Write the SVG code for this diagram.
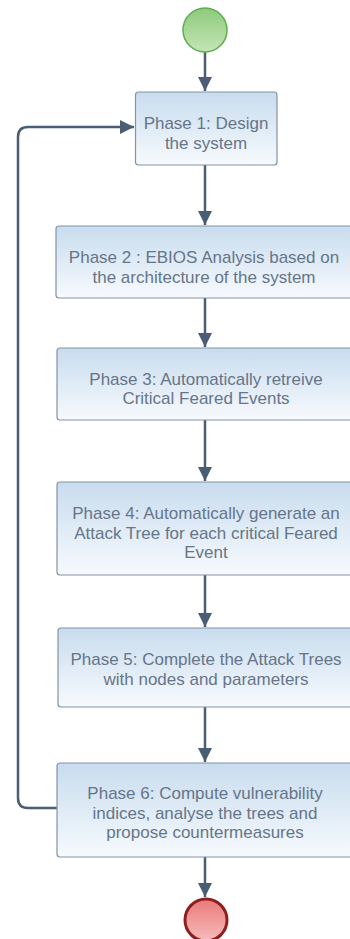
<svg xmlns="http://www.w3.org/2000/svg" width="350" height="939" viewBox="0 0 350 939">
<defs>
<linearGradient id="boxg" x1="0" y1="0" x2="0" y2="1">
<stop offset="0" stop-color="#c8dcee"/>
<stop offset="1" stop-color="#f7fafd"/>
</linearGradient>
<linearGradient id="startg" x1="0" y1="0" x2="0" y2="1">
<stop offset="0" stop-color="#8dca7b"/>
<stop offset="1" stop-color="#c5e5b8"/>
</linearGradient>
<linearGradient id="endg" x1="0" y1="0" x2="0" y2="1">
<stop offset="0" stop-color="#e97a7a"/>
<stop offset="1" stop-color="#f7bcbc"/>
</linearGradient>
<marker id="arr" viewBox="0 0 14 18" refX="14" refY="9" markerWidth="14" markerHeight="18" markerUnits="userSpaceOnUse" orient="auto">
<path d="M0,2 L14,9 L0,16 Z" fill="#4a5d74"/>
</marker>
</defs>
<style>
.box{fill:url(#boxg);stroke:#8193a8;stroke-width:1.2}
.lbl{font-family:"Liberation Sans",Arial,sans-serif;font-size:17px;fill:#66758a;text-anchor:middle}
.con{fill:none;stroke:#4a5d74;stroke-width:2.5;marker-end:url(#arr)}
</style>
<rect width="350" height="939" fill="#ffffff"/>
<g id="connectors">
<path class="con" d="M205,52 L205,91"/>
<path class="con" d="M205,165 L205,225"/>
<path class="con" d="M205,298 L205,347"/>
<path class="con" d="M205,420 L205,481"/>
<path class="con" d="M205,575 L205,627"/>
<path class="con" d="M205,707 L205,762"/>
<path class="con" d="M205,857 L205,897"/>
<path class="con" d="M57,808 L28,808 Q18,808 18,798 L18,137 Q18,127 28,127 L134,127"/>
</g>
<g id="start">
<circle cx="205" cy="30" r="22" fill="url(#startg)" stroke="#5fae4f" stroke-width="1.5"/>
</g>
<g id="phase1">
<rect class="box" x="135.5" y="92" width="141.5" height="73" rx="3"/>
<text class="lbl"><tspan x="206" y="129">Phase 1: Design</tspan><tspan x="206" y="149">the system</tspan></text>
</g>
<g id="phase2">
<rect class="box" x="56" y="226" width="298" height="72" rx="3"/>
<text class="lbl"><tspan x="204" y="263">Phase 2 : EBIOS Analysis based on</tspan><tspan x="204" y="283">the architecture of the system</tspan></text>
</g>
<g id="phase3">
<rect class="box" x="57" y="348" width="297" height="72" rx="3"/>
<text class="lbl"><tspan x="206" y="385">Phase 3: Automatically retreive</tspan><tspan x="206" y="404">Critical Feared Events</tspan></text>
</g>
<g id="phase4">
<rect class="box" x="57" y="482" width="297" height="93" rx="3"/>
<text class="lbl"><tspan x="206" y="519">Phase 4: Automatically generate an</tspan><tspan x="206" y="539">Attack Tree for each critical Feared</tspan><tspan x="206" y="558">Event</tspan></text>
</g>
<g id="phase5">
<rect class="box" x="58" y="628" width="296" height="79" rx="3"/>
<text class="lbl"><tspan x="206" y="665">Phase 5: Complete the Attack Trees</tspan><tspan x="206" y="685">with nodes and parameters</tspan></text>
</g>
<g id="phase6">
<rect class="box" x="57" y="763" width="297" height="94" rx="3"/>
<text class="lbl"><tspan x="205" y="799">Phase 6: Compute vulnerability</tspan><tspan x="205" y="819">indices, analyse the trees and</tspan><tspan x="205" y="838">propose countermeasures</tspan></text>
</g>
<g id="end">
<circle cx="206" cy="920" r="21" fill="url(#endg)" stroke="#8e1f1f" stroke-width="3"/>
</g>
</svg>
